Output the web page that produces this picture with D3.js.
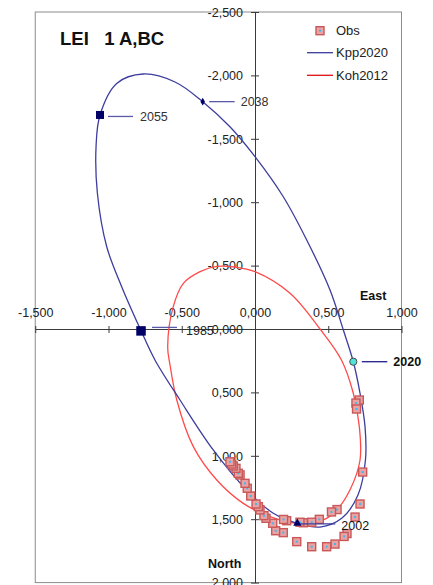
<!DOCTYPE html>
<html>
<head>
<meta charset="utf-8">
<script src="https://cdn.jsdelivr.net/npm/d3@7/dist/d3.min.js"></script>
<style>
  html, body { margin: 0; padding: 0; background: #fff; }
  svg { display: block; font-family: "Liberation Sans", Arial, sans-serif; }
</style>
</head>
<body>
<svg id="chart" width="433" height="585"></svg>
<script>
// Relative orbit of LEI 1 A,BC: East offset (x) and North offset (y), arcsec.
const xTicks = [-1.5, -1.0, -0.5, 0.0, 0.5, 1.0];
const yTicks = [-2.5, -2.0, -1.5, -1.0, -0.5, 0.0, 0.5, 1.0, 1.5, 2.0];

// Observed positions
const obsX = [0.712, 0.689, 0.693, 0.735, 0.717, 0.683, 0.628, 0.608, 0.546, 0.489,
              0.387, 0.285, 0.560, 0.522, 0.439, 0.387, 0.330, 0.307, 0.216, 0.195,
              0.193, 0.141, 0.121, 0.075, 0.061, 0.034, 0.023, 0.007, -0.029, -0.053,
              -0.068, -0.102, -0.114, -0.130, -0.148, -0.159, -0.171];
const obsY = [0.560, 0.584, 0.631, 1.128, 1.380, 1.483, 1.613, 1.636, 1.696, 1.717,
              1.717, 1.677, 1.424, 1.443, 1.501, 1.524, 1.528, 1.524, 1.512, 1.502,
              1.606, 1.591, 1.532, 1.493, 1.472, 1.427, 1.401, 1.380, 1.317, 1.256,
              1.217, 1.151, 1.138, 1.099, 1.080, 1.065, 1.047];

// Kpp2020 orbit, positions along the apparent ellipse
const kppX = [-0.778, -0.683, -0.512, -0.285, -0.057, 0.125, 0.289, 0.444, 0.594, 0.703,
              0.754, 0.751, 0.717, 0.671, 0.603, 0.512, 0.353, 0.193, 0.000, -0.171,
              -0.357, -0.546, -0.762, -0.944, -1.058, -1.085, -1.076, -1.012, -0.910];
const kppY = [0.013, 0.244, 0.560, 0.954, 1.270, 1.453, 1.532, 1.562, 1.491, 1.309,
              1.033, 0.770, 0.507, 0.258, 0.008, -0.308, -0.702, -1.043, -1.359, -1.595,
              -1.793, -1.948, -2.011, -1.937, -1.688, -1.438, -1.073, -0.649, -0.334];

// Koh2012 orbit
const kohX = [-0.596, -0.580, -0.534, -0.421, -0.261, -0.080, 0.102, 0.285, 0.466, 0.558,
              0.648, 0.717, 0.712, 0.671, 0.590, 0.444, 0.239, 0.000, -0.137, -0.261,
              -0.375, -0.489, -0.558];
const kohY = [0.140, 0.284, 0.560, 0.928, 1.191, 1.375, 1.480, 1.532, 1.506, 1.427,
              1.270, 1.033, 0.770, 0.507, 0.244, 0.000, -0.282, -0.452, -0.489, -0.494,
              -0.452, -0.360, -0.176];

// Epoch markers on the Kpp2020 orbit
const epochLabels = ["1985", "2002", "2020", "2038", "2055"];
const epochX = [-0.778, 0.289, 0.671, -0.357, -1.058];
const epochY = [0.015, 1.532, 0.258, -1.793, -1.688];

const svg = d3.select("#chart");
const plot = { left: 35.25, right: 401.5, top: 12, bottom: 582.6 };

const x = d3.scaleLinear().domain([-1.5, 1.0]).range([plot.left, plot.right]);
const y = d3.scaleLinear().domain([-2.5, 2.0]).range([plot.top, plot.bottom]);

const locale = d3.formatLocale({ decimal: ",", thousands: ".", grouping: [3], currency: ["", ""], minus: "-" });
const fmt = locale.format(".3f");

const BLUE = "#3d3d9e";
const RED = "#ff4a4a";
const NAVY = "#000066";

// plot area frame
svg.append("rect")
  .attr("x", plot.left).attr("y", plot.top)
  .attr("width", plot.right - plot.left).attr("height", plot.bottom - plot.top)
  .attr("fill", "none").attr("stroke", "#8c8c8c").attr("stroke-width", 1);

// axes through the origin
const xAxis = svg.append("g")
  .attr("transform", `translate(0,${y(0)})`)
  .call(d3.axisBottom(x).tickValues(xTicks).tickFormat(fmt).tickSizeOuter(0).tickSizeInner(4));
xAxis.selectAll(".tick line").attr("y1", -3).attr("y2", 4);
xAxis.selectAll(".tick text").attr("y", -12).attr("dy", "0");

const yAxis = svg.append("g")
  .attr("transform", `translate(${x(0)},0)`)
  .call(d3.axisLeft(y).tickValues(yTicks).tickFormat(fmt).tickSizeOuter(0).tickSizeInner(4));
yAxis.selectAll(".tick line").attr("x1", -4).attr("x2", 4);
yAxis.selectAll(".tick text").attr("x", -12).attr("dy", "0.34em");

[xAxis, yAxis].forEach(g => {
  g.select(".domain").attr("stroke", "#3a3a3a").attr("stroke-width", 1);
  g.selectAll(".tick line").attr("stroke", "#3a3a3a");
  g.selectAll(".tick text").attr("fill", "#222").style("font-size", "12.5px")
    .style("font-family", "'Liberation Sans', Arial, sans-serif");
});

// axis titles
svg.append("text").attr("x", 360).attr("y", 300)
  .attr("font-weight", "bold").attr("font-size", 12.5).attr("fill", "#111").text("East");
svg.append("text").attr("x", 208).attr("y", 567.5)
  .attr("font-weight", "bold").attr("font-size", 12.5).attr("fill", "#111").text("North");

// orbits
const orbitLine = d3.line().x(d => x(d[0])).y(d => y(d[1])).curve(d3.curveCatmullRomClosed.alpha(0.5));
const kohPts = kohX.map((v, i) => [v, kohY[i]]);
const kppPts = kppX.map((v, i) => [v, kppY[i]]);

svg.append("path").attr("d", orbitLine(kohPts))
  .attr("fill", "none").attr("stroke", RED).attr("stroke-width", 1.3);
svg.append("path").attr("d", orbitLine(kppPts))
  .attr("fill", "none").attr("stroke", BLUE).attr("stroke-width", 1.3);

// observations
function obsMarker(g, cx, cy) {
  g.append("rect").attr("x", cx - 4).attr("y", cy - 4).attr("width", 8).attr("height", 8)
    .attr("fill", "#e9a3a3").attr("stroke", "#c9585a").attr("stroke-width", 1.4);
  g.append("rect").attr("x", cx - 1).attr("y", cy - 1).attr("width", 2).attr("height", 2)
    .attr("fill", "#3fb8ee");
}
const obsG = svg.append("g");
obsX.forEach((v, i) => obsMarker(obsG, x(v), y(obsY[i])));

// epoch markers with leader lines and labels
const lab = svg.append("g").attr("font-size", 12.5);
const ex = epochX.map(x), ey = epochY.map(y);

// 1985
lab.append("line").attr("x1", ex[0] + 11).attr("x2", ex[0] + 36).attr("y1", ey[0] - 3.5).attr("y2", ey[0] - 3.5)
  .attr("stroke", "#5a5aa8").attr("stroke-width", 1.3);
svg.append("rect").attr("x", ex[0] - 4.75).attr("y", ey[0] - 4.75).attr("width", 9.5).attr("height", 9.5).attr("fill", NAVY);
lab.append("text").attr("x", ex[0] + 45).attr("y", ey[0]).attr("dy", "0.34em").attr("fill", "#222").text(epochLabels[0]);

// 2002
lab.append("line").attr("x1", ex[1] + 3).attr("x2", ex[1] + 38).attr("y1", ey[1] + 0.7).attr("y2", ey[1] + 0.7)
  .attr("stroke", BLUE).attr("stroke-width", 1.2);
svg.append("path").attr("d", d3.symbol().type(d3.symbolTriangle).size(30)())
  .attr("transform", `translate(${ex[1]},${ey[1]})`).attr("fill", NAVY);
lab.append("text").attr("x", ex[1] + 44).attr("y", ey[1] + 6.7).attr("fill", "#111").text(epochLabels[1]);

// 2020
lab.append("line").attr("x1", ex[2] + 8.5).attr("x2", ex[2] + 34).attr("y1", ey[2]).attr("y2", ey[2])
  .attr("stroke", "#1c1c8c").attr("stroke-width", 1.3);
svg.append("circle").attr("cx", ex[2]).attr("cy", ey[2]).attr("r", 3.6)
  .attr("fill", "#4fe3dc").attr("stroke", "#4a4a4a").attr("stroke-width", 1);
lab.append("text").attr("x", ex[2] + 40).attr("y", ey[2]).attr("dy", "0.34em")
  .attr("font-weight", "bold").attr("fill", "#111").text(epochLabels[2]);

// 2038
lab.append("line").attr("x1", ex[3] + 6.5).attr("x2", ex[3] + 32).attr("y1", ey[3]).attr("y2", ey[3])
  .attr("stroke", "#5a5aa8").attr("stroke-width", 1.3);
svg.append("path").attr("d", d3.symbol().type(d3.symbolDiamond).size(18)())
  .attr("transform", `translate(${ex[3]},${ey[3]})`).attr("fill", NAVY);
lab.append("text").attr("x", ex[3] + 38).attr("y", ey[3]).attr("dy", "0.34em").attr("fill", "#333").text(epochLabels[3]);

// 2055
lab.append("line").attr("x1", ex[4] + 8).attr("x2", ex[4] + 33).attr("y1", ey[4] + 1.5).attr("y2", ey[4] + 1.5)
  .attr("stroke", "#5a5aa8").attr("stroke-width", 1.3);
svg.append("rect").attr("x", ex[4] - 4).attr("y", ey[4] - 4).attr("width", 8).attr("height", 8).attr("fill", NAVY);
lab.append("text").attr("x", ex[4] + 40).attr("y", ey[4] + 2).attr("dy", "0.34em").attr("fill", "#333").text(epochLabels[4]);

// title
svg.append("text").attr("x", 60).attr("y", 45).attr("font-weight", "bold").attr("font-size", 18.5)
  .attr("fill", "#111").style("white-space", "pre").text("LEI   1 A,BC");

// legend
const leg = svg.append("g").attr("font-size", 13).attr("fill", "#222");
obsMarker(leg, 320, 30.7);
leg.append("text").attr("x", 336).attr("y", 34.5).text("Obs");
leg.append("line").attr("x1", 307).attr("x2", 333).attr("y1", 52.7).attr("y2", 52.7).attr("stroke", BLUE).attr("stroke-width", 1.3);
leg.append("text").attr("x", 336).attr("y", 57.3).text("Kpp2020");
leg.append("line").attr("x1", 307).attr("x2", 333).attr("y1", 75.3).attr("y2", 75.3).attr("stroke", "#e01010").attr("stroke-width", 1.3);
leg.append("text").attr("x", 336).attr("y", 80).text("Koh2012");
</script>
</body>
</html>
